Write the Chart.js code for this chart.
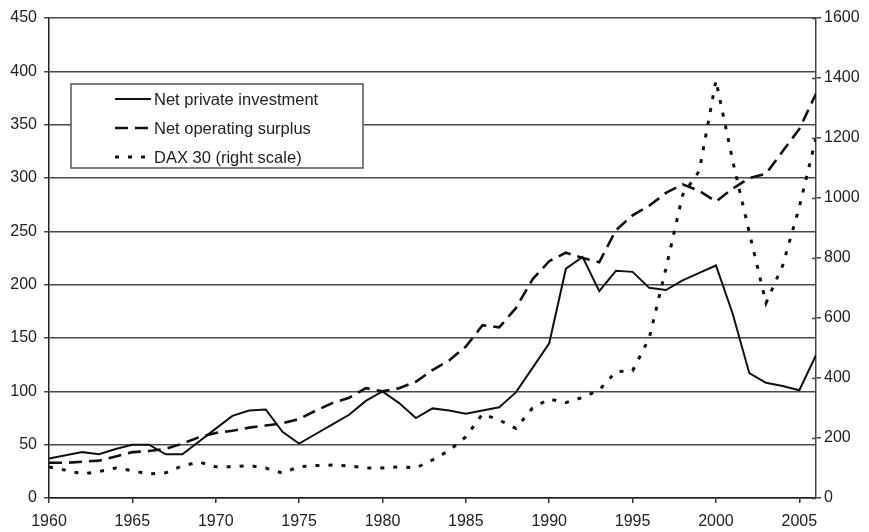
<!DOCTYPE html>
<html>
<head>
<meta charset="utf-8">
<script src="https://cdn.jsdelivr.net/npm/chart.js"></script>
<style>
  body { margin: 0; background: #fff; }
  #wrap { width: 869px; height: 532px; }
</style>
</head>
<body>
<div id="wrap"><canvas id="chart" width="869" height="532"></canvas></div>
<script>
const years = [1960, 1961, 1962, 1963, 1964, 1965, 1966, 1967, 1968, 1969,
  1970, 1971, 1972, 1973, 1974, 1975, 1976, 1977, 1978, 1979,
  1980, 1981, 1982, 1983, 1984, 1985, 1986, 1987, 1988, 1989,
  1990, 1991, 1992, 1993, 1994, 1995, 1996, 1997, 1998, 1999,
  2000, 2001, 2002, 2003, 2004, 2005, 2006];

// left scale
const investment = [37, 40, 43, 41, 46, 50, 50, 41, 41, 53,
  65, 77, 82, 83, 62, 51, 60, 69, 78, 91,
  100, 89, 75, 84, 82, 79, 82, 85, 99, 122,
  145, 215, 226, 194, 213, 212, 197, 195, 204, 211,
  218, 173, 117, 108, 105, 101, 134];

const surplus = [33, 33, 34, 35, 39, 43, 44, 46, 51, 57,
  61, 63, 66, 68, 70, 74, 82, 89, 94, 103,
  100, 103, 109, 120, 129, 142, 162, 160, 178, 205,
  222, 230, 225, 221, 251, 265, 274, 286, 294, 288,
  278, 290, 300, 304, 325, 346, 379];

// right scale
const dax = [103, 93, 80, 88, 100, 91, 80, 84, 107, 120,
  104, 104, 108, 100, 83, 104, 108, 110, 107, 100,
  100, 104, 100, 127, 158, 204, 280, 260, 232, 300,
  330, 318, 335, 360, 421, 424, 533, 765, 1010, 1090,
  1392, 1125, 885, 650, 775, 970, 1200];

const seriesNames = ['Net private investment', 'Net operating surplus', 'DAX 30 (right scale)'];
const leftTicks = { min: 0, max: 450, step: 50 };
const rightTicks = { min: 0, max: 1600, step: 200 };

const FONT = "'Liberation Sans', Arial, sans-serif";

function pts(vals) {
  return years.map((yr, i) => ({ x: yr, y: vals[i] }));
}

// legend drawn as a framed box inside the plot
const boxLegend = {
  id: 'boxLegend',
  afterDatasetsDraw(chart) {
    const ctx = chart.ctx;
    const a = chart.chartArea;
    const x = a.left + 22, y = a.top + 66, w = 292, h = 84;
    ctx.save();
    ctx.fillStyle = '#fff';
    ctx.fillRect(x, y, w, h);
    ctx.strokeStyle = '#555';
    ctx.lineWidth = 1.5;
    ctx.strokeRect(x, y, w, h);
    ctx.font = '16.5px ' + FONT;
    ctx.textBaseline = 'middle';
    ctx.fillStyle = '#222';
    chart.data.datasets.forEach((ds, i) => {
      const cy = y + 15 + i * 29;
      ctx.beginPath();
      ctx.setLineDash(ds.borderDash || []);
      ctx.lineWidth = ds.borderWidth;
      ctx.strokeStyle = ds.borderColor;
      ctx.moveTo(x + 44, cy);
      ctx.lineTo(x + 80, cy);
      ctx.stroke();
      ctx.setLineDash([]);
      ctx.fillText(ds.label, x + 83, cy + 1);
    });
    ctx.restore();
  }
};

// right axis ticks also poke into the plot a little
const innerTicks = {
  id: 'innerTicks',
  afterDraw(chart) {
    const s = chart.scales.y1;
    const ctx = chart.ctx;
    ctx.save();
    ctx.strokeStyle = '#444';
    ctx.lineWidth = 1.5;
    s.ticks.forEach(t => {
      const py = Math.round(s.getPixelForValue(t.value)) + 0.5;
      ctx.beginPath();
      ctx.moveTo(s.left - 4, py);
      ctx.lineTo(s.left, py);
      ctx.stroke();
    });
    ctx.restore();
  }
};

new Chart(document.getElementById('chart'), {
  type: 'line',
  data: {
    datasets: [
      { label: seriesNames[0], data: pts(investment), yAxisID: 'y', borderColor: '#111', borderWidth: 2 },
      { label: seriesNames[1], data: pts(surplus), yAxisID: 'y', borderColor: '#111', borderWidth: 2.6, borderDash: [13, 7] },
      { label: seriesNames[2], data: pts(dax), yAxisID: 'y1', borderColor: '#111', borderWidth: 3, borderDash: [4, 9] }
    ]
  },
  options: {
    responsive: false,
    animation: false,
    layout: { padding: { top: 18, right: 0, bottom: 0, left: 0 } },
    elements: { point: { radius: 0 }, line: { tension: 0 } },
    plugins: { legend: { display: false }, tooltip: { enabled: false } },
    scales: {
      x: {
        type: 'linear',
        min: years[0],
        max: years[years.length - 1],
        afterFit: s => { s.height = 34; },
        border: { display: true, color: '#222', width: 1.5 },
        grid: { drawOnChartArea: false, drawTicks: true, tickLength: 5, color: '#333', lineWidth: 1.5 },
        ticks: {
          stepSize: 5,
          includeBounds: false,
          padding: 9,
          color: '#222',
          font: { size: 16, family: FONT },
          callback: v => String(v)
        }
      },
      y: {
        position: 'left',
        min: leftTicks.min,
        max: leftTicks.max,
        afterFit: s => { s.width = 49; },
        border: { display: true, color: '#222', width: 1.5 },
        grid: { color: '#4a4a4a', lineWidth: 1.5, tickLength: 5 },
        ticks: { stepSize: leftTicks.step, padding: 7, color: '#222', font: { size: 16, family: FONT }, callback: v => String(v) }
      },
      y1: {
        position: 'right',
        min: rightTicks.min,
        max: rightTicks.max,
        afterFit: s => { s.width = 53; },
        border: { display: true, color: '#444', width: 1.5 },
        grid: { drawOnChartArea: false, color: '#444', lineWidth: 1.5, tickLength: 5 },
        ticks: { stepSize: rightTicks.step, padding: 3, color: '#222', font: { size: 16, family: FONT }, callback: v => String(v) }
      }
    }
  },
  plugins: [boxLegend, innerTicks]
});
</script>
</body>
</html>
